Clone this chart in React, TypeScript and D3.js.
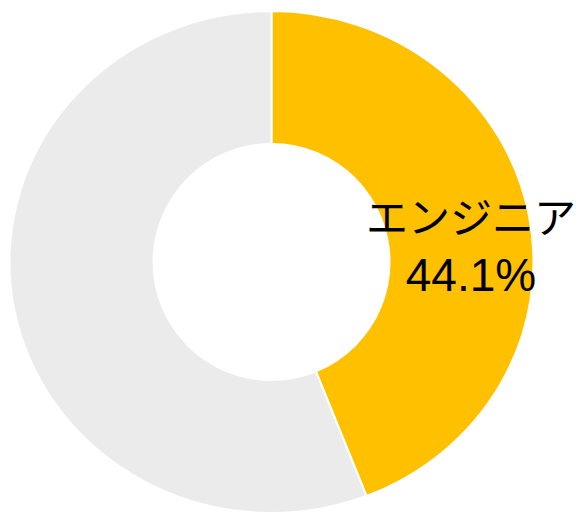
import React from "react";
import * as d3 from "d3";

const categories = ["エンジニア", "その他"];
const values = [44.1, 55.9];
const labels = ["エンジニア", ""];
const valueLabels = ["44.1%", ""];
const colors = ["#FFC000", "#EBEBEB"];

const W = 579;
const H = 515;
const CX = 271.5;
const CY = 262;
const RX = 262;
const RY = 251;
const R_INNER = 119;

export default function App() {
  const pie = d3
    .pie<number>()
    .sort(null)
    .value((d) => d);
  const arcs = pie(values);
  const arc = d3.arc<d3.PieArcDatum<number>>().innerRadius(0).outerRadius(RY);

  return (
    <svg
      width={W}
      height={H}
      style={{ position: "absolute", left: 0, top: 0, background: "#fff" }}
    >
      <g transform={`translate(${CX},${CY}) scale(${RX / RY},1)`}>
        {arcs.map((a, i) => (
          <path
            key={categories[i]}
            d={arc(a) || ""}
            fill={colors[i]}
            stroke="#ffffff"
            strokeWidth={2}
            vectorEffect="non-scaling-stroke"
          />
        ))}
      </g>
      <circle cx={CX} cy={CY} r={R_INNER} fill="#ffffff" />
      {arcs.map((a, i) =>
        labels[i] ? (
          <g key={"l" + i}>
            <text
              x={471}
              y={233}
              textAnchor="middle"
              fontFamily="'Noto Sans CJK JP', sans-serif"
              fontSize={42}
              fill="#000"
            >
              {labels[i]}
            </text>
            <text
              x={471}
              y={291}
              textAnchor="middle"
              fontFamily="'Liberation Sans', Arial, sans-serif"
              fontSize={46}
              fill="#000"
            >
              {valueLabels[i]}
            </text>
          </g>
        ) : null
      )}
    </svg>
  );
}
